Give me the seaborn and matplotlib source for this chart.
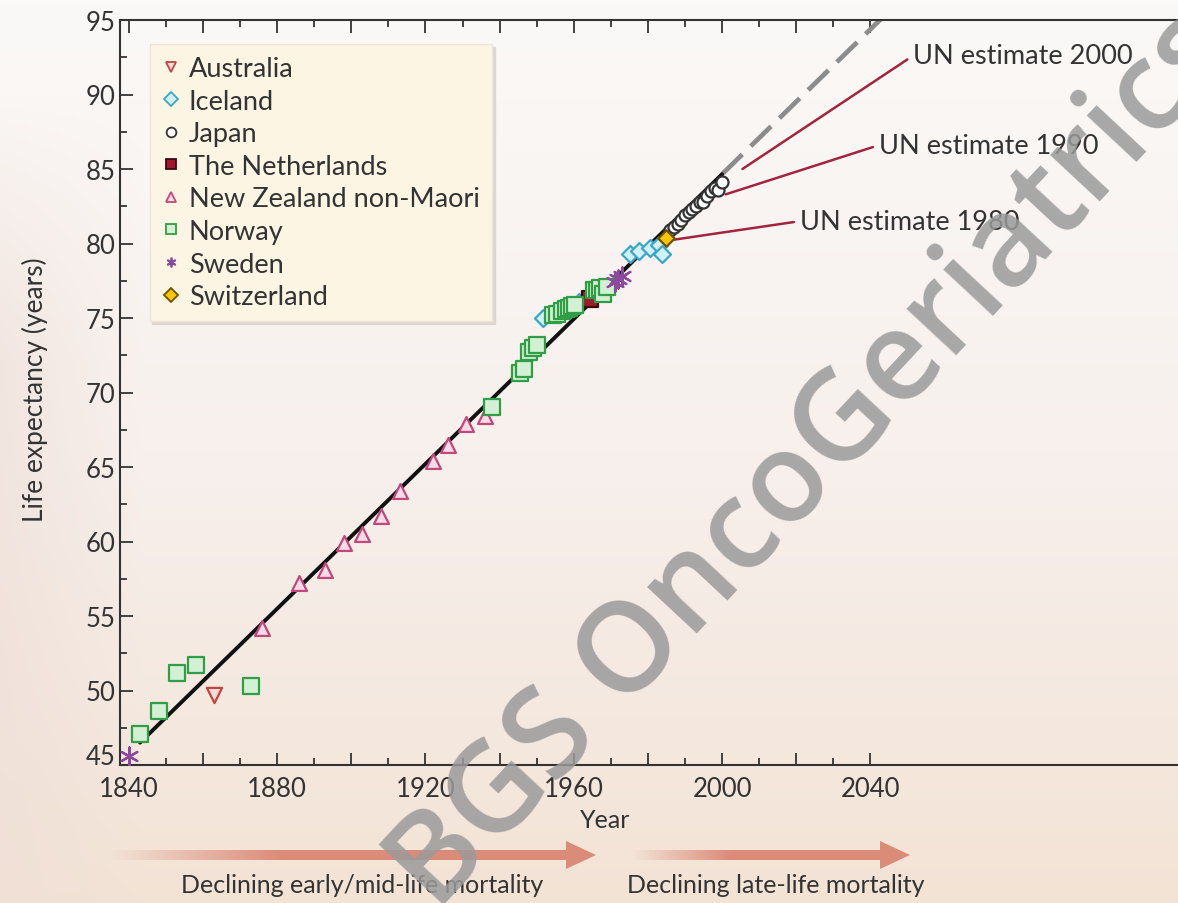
import numpy as np
import pandas as pd
import matplotlib.pyplot as plt
import seaborn as sns
from matplotlib.patches import Polygon
from matplotlib.lines import Line2D
from matplotlib.ticker import MultipleLocator
from matplotlib.transforms import ScaledTranslation

# record female life expectancy points
australia_year = [1863]
australia_le = [49.7]

iceland_year = [1951.6, 1961.3, 1975.2, 1977.5, 1980.6, 1982.9, 1983.8]
iceland_le = [75.0, 76.1, 79.3, 79.5, 79.7, 79.9, 79.3]

japan_year = [1986, 1987, 1988, 1989, 1990, 1991, 1992, 1993,
              1994, 1995, 1996, 1997, 1998, 1999, 2000]
japan_le = [80.9, 81.1, 81.3, 81.6, 81.9, 82.1, 82.3, 82.5,
            82.8, 82.8, 83.2, 83.5, 83.7, 83.6, 84.1]

netherlands_year = [1964.5]
netherlands_le = [76.3]

nz_year = [1876, 1886, 1893, 1898, 1903, 1908, 1913, 1922, 1926, 1931, 1936]
nz_le = [54.2, 57.2, 58.1, 59.9, 60.5, 61.7, 63.4, 65.4, 66.5, 67.9, 68.4]

norway_year = [1843, 1848, 1853, 1858, 1873, 1938, 1945.5, 1946.6, 1947.8,
               1949, 1950, 1954.5, 1955.5, 1956.8, 1957.8, 1958.6, 1959.6,
               1960.4, 1965.5, 1966.2, 1967.2, 1968, 1968.9]
norway_le = [47.1, 48.6, 51.2, 51.7, 50.3, 69.0, 71.3, 71.6, 72.7,
             73.0, 73.2, 75.2, 75.3, 75.5, 75.6, 75.7, 75.8,
             75.9, 76.9, 76.9, 77.0, 76.6, 77.1]

sweden_year = [1840, 1971, 1972, 1973]
sweden_le = [45.6, 77.4, 77.6, 77.8]

switzerland_year = [1985]
switzerland_le = [80.4]

# linear trend of record life expectancy and its extrapolation
trend_year = [1843, 2000]
trend_le = [46.5, 84.65]
proj_year = [2000, 2043]
proj_le = [84.65, 95.1]

# UN estimates: label, point on the trend, label position
un_labels = ["UN estimate 2000", "UN estimate 1990", "UN estimate 1980"]
un_point_year = [2005.5, 2001.0, 1985.5]
un_point_le = [85.0, 83.3, 80.2]
un_text_year = [2051.5, 2042.3, 2021.0]
un_text_le = [92.6, 86.6, 81.5]

countries = ["Australia", "Iceland", "Japan", "The Netherlands",
             "New Zealand non-Maori", "Norway", "Sweden", "Switzerland"]
years = [australia_year, iceland_year, japan_year, netherlands_year,
         nz_year, norway_year, sweden_year, switzerland_year]
values = [australia_le, iceland_le, japan_le, netherlands_le,
          nz_le, norway_le, sweden_le, switzerland_le]

df = pd.concat([
    pd.DataFrame({"country": c, "year": y, "le": v})
    for c, y, v in zip(countries, years, values)
], ignore_index=True)

styles = {
    "Australia": dict(marker="v", face="#f8d9d6", edge="#c0453f", s=120),
    "Iceland": dict(marker="D", face="#d3f0f8", edge="#3aa7c9", s=75),
    "Japan": dict(marker="o", face="#ffffff", edge="#333333", s=75),
    "The Netherlands": dict(marker="s", face="#a3172c", edge="#3a0a10", s=140),
    "New Zealand non-Maori": dict(marker="^", face="#f8dbe6", edge="#c0487a", s=115),
    "Norway": dict(marker="s", face="#d4f0d4", edge="#2f9e44", s=120),
    "Sweden": dict(marker=(6, 2, 0), face="#8a4b9c", edge="#8a4b9c", s=170),
    "Switzerland": dict(marker="D", face="#f7c600", edge="#6b5200", s=70),
}

sns.set_theme(style="ticks")
plt.rcParams["font.family"] = ["Lato", "DejaVu Sans"]

fig = plt.figure(figsize=(11.78, 9.04), dpi=100)

# background wash in pixel coordinates
bg = fig.add_axes([0, 0, 1, 1], zorder=0)
bg.axis("off")
H, W = 226, 295
t = np.linspace(0, 1, H)[:, None]
u = np.linspace(0, 1, W)[None, :]
top = np.array([251, 249, 247]) / 255
mid = np.array([247, 240, 237]) / 255
bot = np.array([243, 227, 213]) / 255
w1 = np.clip(t / 0.5, 0, 1)
w2 = np.clip((t - 0.5) / 0.5, 0, 1)
img = (top * (1 - w1[..., None]) + mid * w1[..., None])
img = img * (1 - w2[..., None]) + bot * w2[..., None]
img = np.broadcast_to(img, (H, W, 3)).copy()
left_tint = np.array([238, 222, 215]) / 255
lw_ = np.clip(1 - u / 0.12, 0, 1)[..., None] * np.clip((t - 0.1) / 0.3, 0, 1)[..., None] * 0.6
img = img * (1 - lw_) + left_tint * lw_
bg.imshow(img, extent=[0, 1178, 904, 0], aspect="auto", zorder=0)


# gradient arrows below the axis
def grad_arrow(x0, x1, yc, color="#d9826f"):
    head_len, half_shaft, half_head = 30, 5, 14
    xh = x1 - head_len
    pts = [(x0, yc - half_shaft), (xh, yc - half_shaft), (xh, yc - half_head),
           (x1, yc), (xh, yc + half_head), (xh, yc + half_shaft), (x0, yc + half_shaft)]
    poly = Polygon(pts, closed=True, facecolor="none", edgecolor="none")
    bg.add_patch(poly)
    n = 200
    rgba = np.zeros((1, n, 4))
    rgba[..., :3] = np.array(plt.matplotlib.colors.to_rgb(color))
    rgba[0, :, 3] = np.clip(np.linspace(0, 1, n) / 0.35, 0, 1) * 0.9
    im = bg.imshow(rgba, extent=[x0, x1, yc + half_head, yc - half_head],
                   aspect="auto", zorder=1)
    im.set_clip_path(poly)


grad_arrow(110, 596, 856)
grad_arrow(632, 910, 856)
bg.set_xlim(0, 1178)
bg.set_ylim(904, 0)

fig.text(362 / 1178, 1 - 886 / 904, "Declining early/mid-life mortality",
         ha="center", va="center", fontsize=18, color="#333333")
fig.text(776 / 1178, 1 - 886 / 904, "Declining late-life mortality",
         ha="center", va="center", fontsize=18, color="#333333")

# main chart
ax = fig.add_axes([120 / 1178, 1 - 766 / 904, 1 - 120 / 1178, 745 / 904], zorder=2)
ax.set_facecolor("none")

ax.plot(proj_year, proj_le, color="#8c8c8c", lw=3.4, ls=(0, (6, 2.5)), zorder=2)
ax.plot(trend_year, trend_le, color="#111111", lw=2.8, zorder=3,
        solid_capstyle="round")

for c in countries:
    st = styles[c]
    sub = df[df["country"] == c]
    sns.scatterplot(data=sub, x="year", y="le", ax=ax, marker=st["marker"],
                    s=st["s"], facecolor=st["face"], edgecolor=st["edge"],
                    linewidth=1.6, legend=False, zorder=4)

for lab, px, py, tx, ty in zip(un_labels, un_point_year, un_point_le,
                               un_text_year, un_text_le):
    ax.annotate(lab, xy=(px, py), xytext=(tx, ty), ha="left", va="center",
                fontsize=19.5, color="#333333",
                arrowprops=dict(arrowstyle="-", color="#a3243f", lw=1.8,
                                shrinkA=2, shrinkB=0, relpos=(0, 0.5)))

ax.set_xlim(1837.6, 2123)
ax.set_ylim(45, 95)
xt = list(range(1840, 2041, 20))
ax.set_xticks(xt)
ax.set_xticklabels([str(y) if y % 40 == 0 else "" for y in xt])
ax.set_xticks(list(range(1850, 2040, 20)), minor=True)
ax.set_yticks(list(range(45, 96, 5)))
ax.yaxis.set_minor_locator(MultipleLocator(2.5))
ax.tick_params(which="both", direction="in", top=True, bottom=True,
               left=True, right=False, color="#333333", width=1.3,
               labelsize=18.5, labelcolor="#333333")
ax.tick_params(which="major", length=9)
ax.tick_params(axis="x", which="major", pad=8)
ax.tick_params(axis="y", which="major", pad=3)
ax.tick_params(which="minor", length=5)
for side in ["left", "top", "bottom"]:
    ax.spines[side].set_color("#333333")
    ax.spines[side].set_linewidth(1.5)
ax.spines["right"].set_visible(False)

# lift the bottom y label a little so it clears "1840"
low = ax.get_yticklabels()[0]
low.set_transform(low.get_transform() + ScaledTranslation(0, 8 / 72, fig.dpi_scale_trans))

ax.set_xlabel("Year", fontsize=18, color="#333333")
ax.xaxis.set_label_coords((605 - 120) / 1058, -0.058)
ax.set_ylabel("Life expectancy (years)", fontsize=19, color="#333333")
ax.yaxis.set_label_coords(-0.068, 0.505)

handles = [
    Line2D([], [], linestyle="none", marker=styles[c]["marker"],
           markersize=7, markerfacecolor=styles[c]["face"],
           markeredgecolor=styles[c]["edge"], markeredgewidth=1.3)
    for c in countries
]
leg = ax.legend(handles, countries, loc="upper left",
                bbox_to_anchor=(0.028, 0.968), borderaxespad=0,
                fontsize=19.5, labelspacing=0.28, handletextpad=0.3,
                handlelength=0.7, borderpad=0.45, frameon=True, fancybox=False,
                shadow={"color": "#d9d2cb", "alpha": 0.8})
leg.get_frame().set_facecolor("#fdf5e4")
leg.get_frame().set_edgecolor("#ece4d6")
leg.get_frame().set_alpha(1)
for txt in leg.get_texts():
    txt.set_color("#333333")

# watermark
fig.text(0.69, 0.49, "BGS OncoGeriatrics", rotation=47, rotation_mode="anchor",
         ha="center", va="center", fontsize=90, fontweight="semibold",
         color="#9a9a9a", alpha=0.85,
         family=["Open Sans", "DejaVu Sans"], zorder=10)

fig.savefig("out.png", dpi=100)
